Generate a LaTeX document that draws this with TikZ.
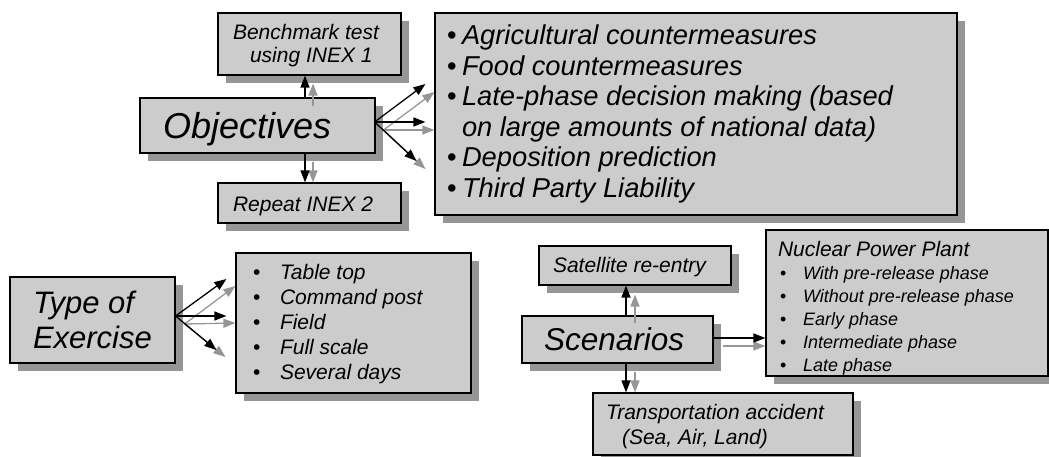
\documentclass[tikz,border=0pt]{standalone}
\usepackage{fontspec}
\setmainfont{Liberation Sans}
\usetikzlibrary{shadows,arrows.meta}
\definecolor{boxfill}{HTML}{CCCCCC}
\definecolor{shadowgray}{HTML}{969696}
\tikzset{
  box/.style={draw=black, line width=1.2pt, fill=boxfill, rectangle,
    inner ysep=0pt, anchor=center,
    drop shadow={shadow xshift=8pt, shadow yshift=-8pt, fill=shadowgray, opacity=1, draw=none}},
  blk/.style={line width=1.3pt, black, -{Triangle[length=12pt,width=9pt]}},
  gry/.style={line width=1.3pt, shadowgray, -{Triangle[length=12pt,width=9pt]}},
}
\newcommand{\bul}[1]{\makebox[#1][l]{\upshape\textbullet}}
% #1 = downward shift, #2 = text width, #3 = text
\newcommand{\lowered}[3]{\raisebox{-#1}[\height][\depth]{\parbox[c]{#2}{#3}}}
\begin{document}
\begin{tikzpicture}[x=1pt,y=-1pt]
\useasboundingbox (0,0) rectangle (1049,457);
% boxes
\node[box, minimum width=235pt, minimum height=55pt, inner xsep=23pt,
  font=\fontsize{36}{40}\selectfont\itshape] (obj) at (257.5,125.5)
  {\lowered{4pt}{189pt}{Objectives}};
\node[box, minimum width=183pt, minimum height=62pt, inner xsep=15pt,
  font=\fontsize{21}{23}\selectfont\itshape] (bench) at (309.5,44)
  {\lowered{2pt}{153pt}{Benchmark test\\\hspace*{17pt}using INEX 1}};
\node[box, minimum width=183pt, minimum height=40pt, inner xsep=15pt,
  font=\fontsize{21}{23}\selectfont\itshape] (rep) at (309.5,203)
  {\lowered{3pt}{153pt}{Repeat INEX 2}};
\node[box, minimum width=522pt, minimum height=202pt, inner xsep=12pt,
  font=\fontsize{27.3}{30.5}\selectfont\itshape] (list) at (696,114) {\lowered{0pt}{498pt}{%
\bul{15pt}Agricultural countermeasures\\
\bul{15pt}Food countermeasures\\
\bul{15pt}Late-phase decision making (based\\
\hspace*{15pt}on large amounts of national data)\\
\bul{15pt}Deposition prediction\\
\bul{15pt}Third Party Liability}};
\node[box, minimum width=165pt, minimum height=86pt, inner xsep=20pt,
  font=\fontsize{31}{35}\selectfont\itshape] (typ) at (92.5,320)
  {\lowered{0pt}{125pt}{\hspace*{3pt}Type of\\\hspace*{3pt}Exercise}};
\node[box, minimum width=235pt, minimum height=140pt, inner xsep=20pt,
  font=\fontsize{21}{25}\selectfont\itshape] (types) at (353.5,323) {\lowered{1.5pt}{195pt}{%
\hspace*{-3pt}\bul{27pt}Table top\\
\hspace*{-3pt}\bul{27pt}Command post\\
\hspace*{-3pt}\bul{27pt}Field\\
\hspace*{-3pt}\bul{27pt}Full scale\\
\hspace*{-3pt}\bul{27pt}Several days}};
\node[box, minimum width=192pt, minimum height=39pt, inner xsep=14pt,
  font=\fontsize{21}{23}\selectfont\itshape] (sat) at (635,265.5)
  {\lowered{2pt}{164pt}{Satellite re-entry}};
\node[box, minimum width=191pt, minimum height=47pt, inner xsep=22pt,
  font=\fontsize{31.5}{35}\selectfont\itshape] (scen) at (617.5,339.5)
  {\lowered{0pt}{147pt}{Scenarios}};
\node[box, minimum width=282pt, minimum height=146pt, inner xsep=12pt,
  font=\fontsize{18}{23}\selectfont\itshape] (nuc) at (907,303) {\lowered{5pt}{258pt}{%
{\fontsize{21}{23}\selectfont Nuclear Power Plant}\\
\hspace*{2pt}\bul{23pt}With pre-release phase\\
\hspace*{2pt}\bul{23pt}Without pre-release phase\\
\hspace*{2pt}\bul{23pt}Early phase\\
\hspace*{2pt}\bul{23pt}Intermediate phase\\
\hspace*{2pt}\bul{23pt}Late phase}};
\node[box, minimum width=260pt, minimum height=62pt, inner xsep=13pt,
  font=\fontsize{21}{25}\selectfont\itshape] (trans) at (723,424)
  {\lowered{3pt}{234pt}{Transportation accident\\\hspace*{16pt}(Sea, Air, Land)}};
% shadow (gray) arrows
\draw[gry] ([shift={(8,4.5)}]obj.east) -- ([shift={(0,-22)}]list.west);
\draw[gry] ([shift={(8,4.5)}]obj.east) -- ([shift={(0,16)}]list.west);
\draw[gry] ([shift={(8,4.5)}]obj.east) -- ([shift={(-9,55)}]list.west);
\draw[gry] ([shift={(55.5,9)}]obj.north) -- ([shift={(3.5,8)}]bench.south);
\draw[gry] ([shift={(55.5,8)}]obj.south) -- ([shift={(3.5,0)}]rep.north);
\draw[gry] ([shift={(9,4)}]typ.east) -- ([shift={(0,-37)}]types.west);
\draw[gry] ([shift={(9,4)}]typ.east) -- ([shift={(0,0)}]types.west);
\draw[gry] ([shift={(9,4)}]typ.east) -- ([shift={(-10,34)}]types.west);
\draw[gry] ([shift={(17.5,8)}]scen.north) -- ([shift={(0,9)}]sat.south);
\draw[gry] ([shift={(9,6.5)}]scen.east) -- ([shift={(0,43)}]nuc.west);
\draw[gry] ([shift={(17.5,8)}]scen.south) -- ([shift={(-88,0)}]trans.north);
% black arrows
\draw[blk] ([shift={(-1,-3.5)}]obj.east) -- ([shift={(-9,-30)}]list.west);
\draw[blk] ([shift={(-1,-3.5)}]obj.east) -- ([shift={(-9,8)}]list.west);
\draw[blk] ([shift={(-1,-3.5)}]obj.east) -- ([shift={(-18,47)}]list.west);
\draw[blk] ([shift={(47.5,0)}]obj.north) -- ([shift={(-4.5,0)}]bench.south);
\draw[blk] ([shift={(47.5,0)}]obj.south) -- ([shift={(-4.5,0)}]rep.north);
\draw[blk] ([shift={(0,-4)}]typ.east) -- ([shift={(-9,-44)}]types.west);
\draw[blk] ([shift={(0,-4)}]typ.east) -- ([shift={(-9,-7)}]types.west);
\draw[blk] ([shift={(0,-4)}]typ.east) -- ([shift={(-19,27)}]types.west);
\draw[blk] ([shift={(8.5,0)}]scen.north) -- ([shift={(-9,0)}]sat.south);
\draw[blk] ([shift={(0,-1.5)}]scen.east) -- ([shift={(0,35)}]nuc.west);
\draw[blk] ([shift={(8.5,0)}]scen.south) -- ([shift={(-97,0)}]trans.north);
\end{tikzpicture}
\end{document}
